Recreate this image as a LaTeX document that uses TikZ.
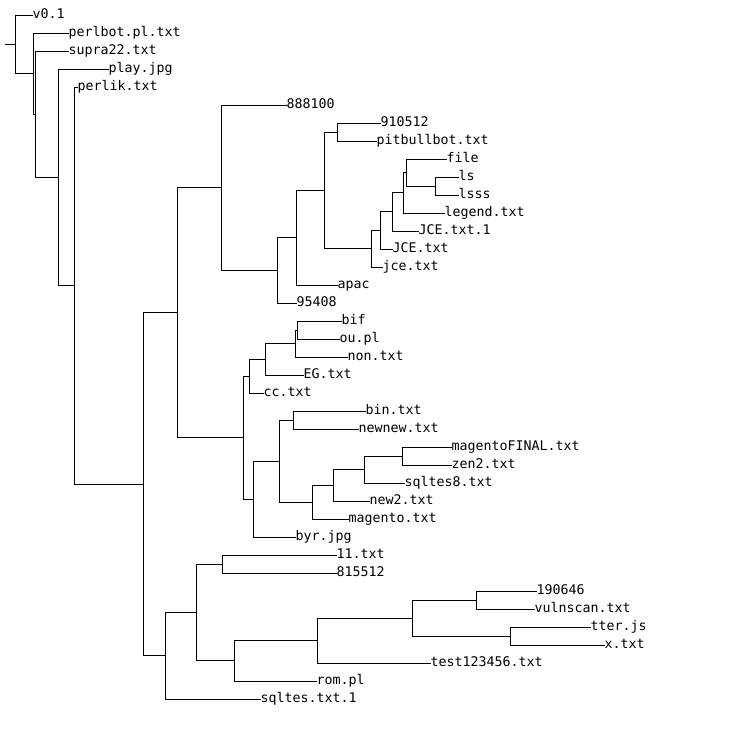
\documentclass[tikz,border=0pt]{standalone}
\usepackage{fontspec}
\newfontfamily\treefont{DejaVu Sans Mono}
\begin{document}
\begin{tikzpicture}[x=1pt,y=-1pt,line width=1pt,line cap=rect,
  leaf/.style={anchor=west,inner sep=0pt,text height=6pt,text depth=0pt,
    font=\treefont\fontsize{13.3}{16}\selectfont}]
\fill[white] (0,0) rectangle (750,750);
\useasboundingbox (0,0) rectangle (750,750);
% internal nodes
\coordinate (rs) at (5,44.3);
\coordinate (r) at (15,44.3);
\coordinate (X1) at (33,73.6);
\coordinate (X1b) at (35,114.2);
\coordinate (X2) at (58,177.3);
\coordinate (X3) at (74,285.6);
\coordinate (X4) at (143,484.2);
\coordinate (X5) at (177,312.6);
\coordinate (A) at (221,187.7);
\coordinate (C) at (277,270.3);
\coordinate (D) at (296,237.7);
\coordinate (E) at (324,190.4);
\coordinate (F) at (337,132);
\coordinate (G) at (371,248.7);
\coordinate (H) at (380,230.4);
\coordinate (I) at (392,211.9);
\coordinate (J) at (403,192.8);
\coordinate (K) at (406,172.5);
\coordinate (L) at (435,186);
\coordinate (B) at (243,437.6);
\coordinate (M) at (249,376.1);
\coordinate (O) at (265,359.3);
\coordinate (P) at (295,343.5);
\coordinate (Q) at (297,330);
\coordinate (N) at (253,499);
\coordinate (R) at (279,461.1);
\coordinate (S) at (293,420);
\coordinate (T) at (312,502.1);
\coordinate (U) at (333,485.3);
\coordinate (V) at (364,469.5);
\coordinate (W) at (402,456);
\coordinate (X6) at (165,655.7);
\coordinate (Y) at (196,612.4);
\coordinate (Z) at (222,564);
\coordinate (AA) at (234,660.8);
\coordinate (AB) at (317,640.5);
\coordinate (AC) at (412,618);
\coordinate (AD) at (476,600);
\coordinate (AE) at (510,636);
% leaves
\node[leaf] (v01) at (32,15) {v0.1};
\node[leaf] (perlbot) at (68,33) {perlbot.pl.txt};
\node[leaf] (supra) at (68,51) {supra22.txt};
\node[leaf] (play) at (108,69) {play.jpg};
\node[leaf] (perlik) at (77,87) {perlik.txt};
\node[leaf] (n888100) at (286,105) {888100};
\node[leaf] (n910512) at (380,123) {910512};
\node[leaf] (pitbull) at (376,141) {pitbullbot.txt};
\node[leaf] (file) at (446,159) {file};
\node[leaf] (ls) at (458,177) {ls};
\node[leaf] (lsss) at (458,195) {lsss};
\node[leaf] (legend) at (444,213) {legend.txt};
\node[leaf] (JCEa) at (418,231) {JCE.txt.1};
\node[leaf] (JCEb) at (392,249) {JCE.txt};
\node[leaf] (jce) at (382,267) {jce.txt};
\node[leaf] (apac) at (337,285) {apac};
\node[leaf] (n95408) at (296,303) {95408};
\node[leaf] (bif) at (341,321) {bif};
\node[leaf] (oupl) at (339,339) {ou.pl};
\node[leaf] (non) at (347,357) {non.txt};
\node[leaf] (EG) at (303,375) {EG.txt};
\node[leaf] (cc) at (263,393) {cc.txt};
\node[leaf] (bin) at (365,411) {bin.txt};
\node[leaf] (newnew) at (358,429) {newnew.txt};
\node[leaf] (magF) at (451,447) {magentoFINAL.txt};
\node[leaf] (zen) at (451,465) {zen2.txt};
\node[leaf] (sq8) at (404,483) {sqltes8.txt};
\node[leaf] (new2) at (369,501) {new2.txt};
\node[leaf] (magento) at (348,519) {magento.txt};
\node[leaf] (byr) at (295,537) {byr.jpg};
\node[leaf] (t11) at (336,555) {11.txt};
\node[leaf] (n815512) at (336,573) {815512};
\node[leaf] (n190646) at (536,591) {190646};
\node[leaf] (vuln) at (534,609) {vulnscan.txt};
\node[leaf] (tter) at (590,627) {tter.js};
\node[leaf] (xtxt) at (604,645) {x.txt};
\node[leaf] (test) at (430,663) {test123456.txt};
\node[leaf] (rom) at (316,681) {rom.pl};
\node[leaf] (sq1) at (260,699) {sqltes.txt.1};
% connectors
\draw (rs) -- (r);
\foreach \p/\c in {r/v01.west, r/X1, X1/perlbot.west, X1/X1b, X1b/supra.west, X1b/X2,
  X2/play.west, X2/X3, X3/perlik.west, X3/X4, X4/X5, X4/X6, X5/A, X5/B,
  A/n888100.west, A/C, C/D, C/n95408.west, D/E, D/apac.west, E/F, E/G,
  F/n910512.west, F/pitbull.west, G/H, G/jce.west, H/I, H/JCEb.west,
  I/J, I/JCEa.west, J/K, J/legend.west, K/file.west, K/L, L/ls.west, L/lsss.west,
  B/M, B/N, M/O, M/cc.west, O/P, O/EG.west, P/Q, P/non.west, Q/bif.west, Q/oupl.west,
  N/R, N/byr.west, R/S, R/T, S/bin.west, S/newnew.west, T/U, T/magento.west,
  U/V, U/new2.west, V/W, V/sq8.west, W/magF.west, W/zen.west,
  X6/Y, X6/sq1.west, Y/Z, Y/AA, Z/t11.west, Z/n815512.west, AA/AB, AA/rom.west,
  AB/AC, AB/test.west, AC/AD, AC/AE, AD/n190646.west, AD/vuln.west,
  AE/tter.west, AE/xtxt.west}
  \draw (\p) |- (\c);
\end{tikzpicture}
\end{document}
